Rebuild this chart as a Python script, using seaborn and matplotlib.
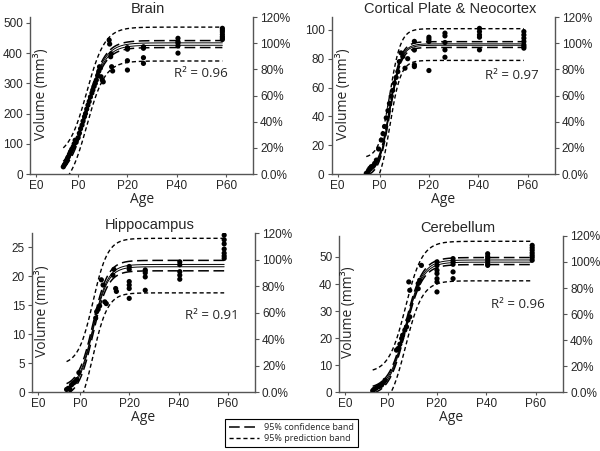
import numpy as np
import pandas as pd
import matplotlib
matplotlib.use('Agg')
import matplotlib.pyplot as plt
from matplotlib.lines import Line2D
import seaborn as sns

# ages in days relative to birth (P0 = 0, E0 at about -19.5)
brain_age = [-6.0, -5.6, -5.2, -4.7, -4.3, -4.0, -3.5, -3.1, -2.6, -2.0, -1.6, -1.2, -0.8,
             0.0, 0.5, 1.0, 1.6, 2.0, 2.6, 3.0, 3.5, 4.0, 4.5, 5.0, 5.6, 6.0, 6.5, 7.0,
             7.4, 8.0, 8.4, 8.7, 9.0, 9.3, 9.8, 10.2, 12.6, 12.8, 13.2, 13.4, 13.6, 14.0,
             20, 20, 20, 20, 26.5, 26.5, 26.5, 26.5, 40.5, 40.5, 40.5, 40.5, 40.5,
             58.5, 58.5, 58.5, 58.5, 58.5, 58.5, 58.5]
brain_vol = [24, 30, 35, 45, 52, 57, 66, 74, 82, 90, 100, 112, 105,
             120, 135, 150, 162, 175, 190, 200, 215, 228, 240, 255, 268, 278, 290, 300,
             311, 325, 340, 355, 350, 322, 311, 305, 443, 430, 388, 398, 355, 341,
             418, 413, 375, 344, 421, 416, 385, 366, 449, 438, 433, 424, 400,
             482, 476, 470, 462, 455, 450, 445]

cortex_age = [-5.4, -4.7, -4.0, -3.4, -2.7, -2.0, -1.3, -0.4, 0.7, 1.4, 2.0, 2.7, 3.4, 4.0,
              4.7, 5.3, 6.0, 6.7, 7.4, 8.0, 8.7, 9.4, 10.3, 11.4, 14.1, 14.1, 14.1, 14.1,
              20, 20, 20, 20, 26.5, 26.5, 26.5, 26.5, 26.5, 40.5, 40.5, 40.5, 40.5, 40.5,
              58.5, 58.5, 58.5, 58.5, 58.5, 58.5, 58.5]
cortex_vol = [0.5, 1.6, 3.9, 5.1, 5.6, 7.4, 9.7, 17.4, 23.6, 28, 33, 39, 44, 49,
              54, 58, 63, 67, 71, 78, 84, 81.5, 73.4, 80, 92, 86, 75.7, 74.5,
              94.9, 93.5, 91.9, 71.8, 97.7, 95.8, 91.2, 86.1, 81, 101, 98.8, 96.5, 94.9, 86.1,
              98.8, 96.5, 94.2, 91.9, 89.6, 88.4, 87.3]

hippo_age = [-5.4, -4.7, -4.0, -3.4, -2.7, -2.0, -1.3, -0.4, 6.4, 6.8, 7.4, 8.0, 8.7, 9.4,
             10.1, 10.7, 13.4, 13.8, 14.5, 14.8, 20, 20, 20, 20, 20, 20,
             26.5, 26.5, 26.5, 26.5, 40.5, 40.5, 40.5, 40.5, 40.5,
             58.5, 58.5, 58.5, 58.5, 58.5, 58.5, 58.5]
hippo_vol = [0.5, 0.7, 0.5, 1.3, 1.6, 1.8, 2.2, 3.4, 12.8, 13.9, 14.3, 14.9, 19.4, 18.5,
             15.6, 15.3, 20.2, 21.2, 17.9, 17.4, 21.7, 21.2, 19.1, 18.5, 17.9, 16.2,
             21.1, 20.6, 19.9, 17.6, 22.5, 22.0, 20.8, 20.2, 19.5,
             27.1, 26.3, 25.6, 24.7, 24.0, 23.5, 23.1]

cereb_age = [-6.0, -5.5, -4.7, -3.7, -3.1, -2.4, -1.7, -1.0, 3.6, 4.3, 5.0, 5.7, 6.1, 7.0,
             7.7, 8.3, 9.0, 8.6, 9.0, 12.4, 12.4, 13.0, 13.7,
             20, 20, 20, 20, 20, 20, 20, 26.5, 26.5, 26.5, 26.5, 26.5,
             40.5, 40.5, 40.5, 40.5, 40.5, 40.5, 58.5, 58.5, 58.5, 58.5, 58.5, 58.5, 58.5]
cereb_vol = [0.6, 1.1, 1.5, 2.1, 2.3, 2.7, 3.6, 4.5, 15.6, 16.2, 17.8, 19.9, 21.1, 23.0,
             24.2, 26.7, 27.9, 40.8, 37.7, 40.2, 38.3, 41.4, 46.9,
             48.2, 46.9, 45.1, 43.9, 42.0, 40.8, 37.1, 49.4, 48.2, 47.3, 44.5, 42.0,
             51.2, 50.2, 49.4, 48.5, 47.5, 46.9, 54.3, 53.4, 52.5, 51.5, 50.6, 49.8, 48.8]

titles = ['Brain', 'Cortical Plate & Neocortex', 'Hippocampus', 'Cerebellum']
r2_labels = ['0.96', '0.97', '0.91', '0.96']

# sigmoid fit: plateau, age at half plateau, width in days
fit_top = [430, 89.8, 21.85, 48.5]
fit_mid = [3.5, 4.2, 5.3, 7.3]
fit_width = [3.7, 2.2, 3.0, 3.4]
# half widths of the bands round the fit
inner_half = [4.0, 0.5, 0.2, 0.4]
conf_half = [11.5, 2.0, 0.9, 1.3]
pred_half = [56, 11, 4.7, 7.3]

# left axis top = 120 % on the right axis
y_top = [519, 108.8, 27.4, 57.8]
y_step = [100, 20, 5, 10]
y_max_tick = [500, 100, 25, 50]

age_ticks = [-17, 0, 20, 40, 60]
age_labels = ['E0', 'P0', 'P20', 'P40', 'P60']
pct_ticks = [0, 20, 40, 60, 80, 100, 120]
pct_labels = ['0.0%', '20%', '40%', '60%', '80%', '100%', '120%']

# axes boxes in figure fractions and label spots
boxes = [(0.050, 0.614, 0.372, 0.348), (0.5525, 0.614, 0.372, 0.348),
         (0.053, 0.130, 0.372, 0.3525), (0.5655, 0.130, 0.373, 0.347)]
r2_pos = [(0.888, 0.643), (0.928, 0.63), (0.925, 0.486), (0.92, 0.563)]
vol_x = [0.052, 0.055, 0.048, 0.043]

CONF = (0, (7, 3))
PRED = (0, (3, 2))
GREY = '#555555'

sns.set_style('ticks')
plt.rcParams['font.family'] = ['Liberation Sans', 'DejaVu Sans']
LABEL_FONT = ['Open Sans', 'DejaVu Sans']


def sigmoid(x, top, mid, width):
    return top / (1 + np.exp(-(x - mid) / width))


def draw_panel(fig, i, age, vol):
    ax = fig.add_axes(boxes[i])
    pts = pd.DataFrame({'age': age, 'vol': vol})
    x = np.linspace(min(age), max(age), 300)
    fit = sigmoid(x, fit_top[i], fit_mid[i], fit_width[i])
    curves = [(fit + inner_half[i], '-', 0.7), (fit - inner_half[i], '-', 0.7),
              (fit + conf_half[i], CONF, 1.1), (fit - conf_half[i], CONF, 1.1),
              (fit + pred_half[i], PRED, 1.0), (fit - pred_half[i], PRED, 1.0)]
    for y, ls, lw in curves:
        sns.lineplot(x=x, y=y, ax=ax, color='black', linestyle=ls, lw=lw)
    sns.scatterplot(data=pts, x='age', y='vol', ax=ax, color='black', s=14,
                    edgecolor='none', zorder=5)

    ax.set_xlim(-19.5, 71)
    ax.set_ylim(0, y_top[i])
    ax.set_xticks(age_ticks, age_labels)
    ax.set_yticks(np.arange(0, y_max_tick[i] + 1, y_step[i]))
    ax.tick_params(labelsize=8.5, length=3, width=0.8, color=GREY, pad=2)
    ax.tick_params(axis='x', length=2)
    ax.set_xlabel('Age', family=LABEL_FONT, fontsize=10, labelpad=0)
    ax.set_ylabel('')
    ax.text(vol_x[i], 0.51, 'Volume (mm³)', transform=ax.transAxes, rotation=90,
            ha='center', va='center', family=LABEL_FONT, fontsize=10)
    ax.text(r2_pos[i][0], r2_pos[i][1], 'R² = ' + r2_labels[i], transform=ax.transAxes,
            ha='right', va='center', family=LABEL_FONT, fontsize=9.5)
    ax.set_title(titles[i], fontsize=10.5, pad=3)
    ax.title.set_x(0.53)
    for side in ['top', 'right']:
        ax.spines[side].set_visible(False)
    for side in ['left', 'bottom']:
        ax.spines[side].set_color(GREY)
        ax.spines[side].set_linewidth(1.0)

    ax2 = ax.twinx()
    ax2.set_ylim(0, 120)
    ax2.set_yticks(pct_ticks, pct_labels)
    ax2.tick_params(labelsize=8.5, length=3, width=0.8, color=GREY, pad=2)
    for side in ['top', 'left', 'bottom']:
        ax2.spines[side].set_visible(False)
    ax2.spines['right'].set_color(GREY)
    ax2.spines['right'].set_linewidth(1.0)
    return ax


fig = plt.figure(figsize=(6, 4.51), dpi=100)
panels = [(brain_age, brain_vol), (cortex_age, cortex_vol),
          (hippo_age, hippo_vol), (cereb_age, cereb_vol)]
for i, (age, vol) in enumerate(panels):
    draw_panel(fig, i, age, vol)

handles = [Line2D([], [], color='black', lw=1.1, linestyle=CONF),
           Line2D([], [], color='black', lw=1.0, linestyle=PRED)]
leg = fig.legend(handles, ['95% confidence band', '95% prediction band'],
                 loc='center', bbox_to_anchor=(0.486, 0.040), fancybox=False,
                 frameon=True, edgecolor='black', framealpha=1, handlelength=3.3,
                 borderpad=0.4, labelspacing=0.25, handletextpad=0.6,
                 prop={'family': LABEL_FONT, 'size': 6.5})
leg.get_frame().set_linewidth(0.8)

fig.savefig('out.png', dpi=100)
